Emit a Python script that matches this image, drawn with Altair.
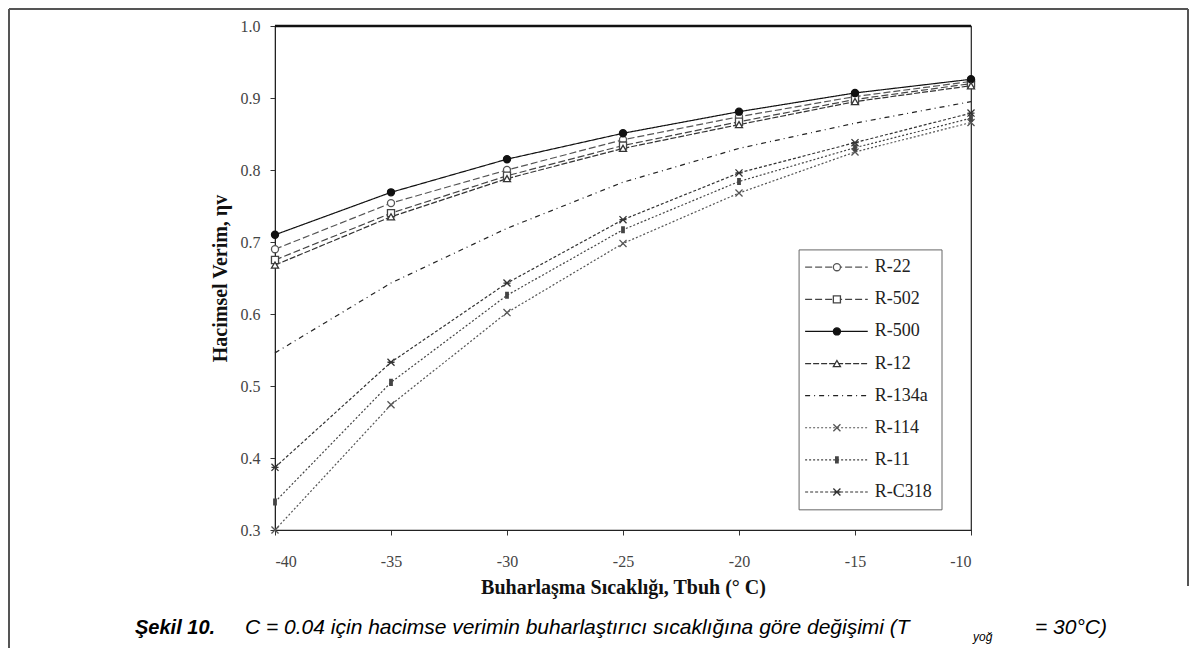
import altair as alt
import pandas as pd

# ---------------- data ----------------
temps = [-40, -35, -30, -25, -20, -15, -10]
series_names = ["R-22", "R-502", "R-500", "R-12", "R-134a", "R-114", "R-11", "R-C318"]
r22 = [0.690, 0.754, 0.800, 0.842, 0.874, 0.902, 0.923]
r502 = [0.675, 0.740, 0.792, 0.834, 0.867, 0.898, 0.920]
r500 = [0.710, 0.769, 0.815, 0.851, 0.881, 0.907, 0.926]
r12 = [0.668, 0.735, 0.788, 0.830, 0.863, 0.895, 0.917]
r134a = [0.546, 0.643, 0.719, 0.783, 0.830, 0.865, 0.895]
r114 = [0.300, 0.474, 0.602, 0.698, 0.768, 0.825, 0.866]
r11 = [0.339, 0.505, 0.626, 0.717, 0.784, 0.831, 0.872]
rc318 = [0.387, 0.533, 0.643, 0.731, 0.796, 0.838, 0.879]
y_ticks = [0.3, 0.4, 0.5, 0.6, 0.7, 0.8, 0.9, 1.0]

values_by_series = [r22, r502, r500, r12, r134a, r114, r11, rc318]

# ---------------- styles ----------------
colors = ["#555555", "#444444", "#111111", "#333333", "#222222", "#555555", "#444444", "#333333"]
dashes = [[7, 3], [7, 3], [1, 0], [6, 2], [5, 4, 1, 4], [2, 2], [2, 2], [3, 2]]
widths = [1.2, 1.2, 1.5, 1.2, 1.2, 1.2, 1.2, 1.2]
x_path = "M-1,-1L1,1M-1,1L1,-1"
bar_path = "M0,-1L0,1M-0.35,-1L-0.35,1M0.35,-1L0.35,1"
star_path = "M-1,-1L1,1M-1,1L1,-1M-1,0L1,0"
shapes = ["circle", "square", "circle", "triangle-up", "circle", x_path, bar_path, star_path]
fills = ["white", "white", "#111111", "white", "white", "white", "white", "white"]

rows = []
for name, vals in zip(series_names, values_by_series):
    for t, v in zip(temps, vals):
        rows.append({"series": name, "T": t, "v": v})
df = pd.DataFrame(rows)

color_scale = alt.Scale(domain=series_names, range=colors)
dash_scale = alt.Scale(domain=series_names, range=dashes)
width_scale = alt.Scale(domain=series_names, range=widths)
shape_scale = alt.Scale(domain=series_names, range=shapes)
fill_scale = alt.Scale(domain=series_names, range=fills)

x_scale = alt.Scale(domain=[-40, -10], nice=False)
y_scale = alt.Scale(domain=[0.3, 1.0], nice=False, zero=False)

serif = "Liberation Serif"

x_axis = alt.Axis(values=temps, labelExpr="'' + datum.value", title="Buharlaşma Sıcaklığı, Tbuh (° C)",
                  grid=False, tickSize=5, labelPadding=18, titlePadding=8,
                  labelFont=serif, labelFontSize=16, labelColor="#444444",
                  titleFont=serif, titleFontSize=20, titleFontWeight="bold",
                  titleColor="#111111", domainColor="#222222", tickColor="#333333")
y_axis = alt.Axis(values=y_ticks, format=".1f", title="Hacimsel Verim, ηv",
                  grid=False, tickSize=5, labelPadding=10, titlePadding=10,
                  labelFont=serif, labelFontSize=16, labelColor="#444444",
                  titleFont=serif, titleFontSize=20, titleFontWeight="bold",
                  titleColor="#111111", domainColor="#222222", tickColor="#333333")


def X(field):
    return alt.X(field, type="quantitative", scale=x_scale, axis=x_axis)


def Y(field):
    return alt.Y(field, type="quantitative", scale=y_scale, axis=y_axis)


lines = alt.Chart(df).mark_line().encode(
    x=X("T"), y=Y("v"),
    detail="series:N",
    color=alt.Color("series:N", scale=color_scale, legend=None),
    strokeDash=alt.StrokeDash("series:N", scale=dash_scale, legend=None),
    strokeWidth=alt.StrokeWidth("series:N", scale=width_scale, legend=None),
)

points = alt.Chart(df).transform_filter(alt.datum.series != "R-134a").mark_point(
    filled=False, size=50, strokeWidth=1.3, opacity=1
).encode(
    x=X("T"), y=Y("v"),
    shape=alt.Shape("series:N", scale=shape_scale, legend=None),
    fill=alt.Fill("series:N", scale=fill_scale, legend=None),
    color=alt.Color("series:N", scale=color_scale, legend=None),
)

top_rule = alt.Chart(alt.Data(values=[{}])).mark_rule(color="#111111", strokeWidth=2.5).encode(
    y=alt.datum(1.0, scale=y_scale, axis=y_axis)
)

# ---------------- legend (inside the plot, lower right) ----------------
leg_top = 0.665
leg_step = 0.0446
leg_rows = []
for i, name in enumerate(series_names):
    leg_rows.append({"series": name, "lx0": -17.15, "lx1": -14.45, "lm": -15.78,
                     "lt": -14.15, "ly": leg_top - i * leg_step})
leg_df = pd.DataFrame(leg_rows)

leg_box = alt.Chart(alt.Data(values=[{"a": -17.41, "b": -11.25, "c": 0.689, "d": 0.328}])).mark_rect(
    fill="white", stroke="#666666", strokeWidth=1
).encode(x=X("a"), x2="b:Q", y=Y("c"), y2="d:Q")

leg_lines = alt.Chart(leg_df).mark_rule().encode(
    x=X("lx0"), x2="lx1:Q", y=Y("ly"),
    color=alt.Color("series:N", scale=color_scale, legend=None),
    strokeDash=alt.StrokeDash("series:N", scale=dash_scale, legend=None),
    strokeWidth=alt.StrokeWidth("series:N", scale=width_scale, legend=None),
)
leg_pts = alt.Chart(leg_df).transform_filter(alt.datum.series != "R-134a").mark_point(
    filled=False, size=50, strokeWidth=1.3, opacity=1
).encode(
    x=X("lm"), y=Y("ly"),
    shape=alt.Shape("series:N", scale=shape_scale, legend=None),
    fill=alt.Fill("series:N", scale=fill_scale, legend=None),
    color=alt.Color("series:N", scale=color_scale, legend=None),
)
leg_txt = alt.Chart(leg_df).mark_text(align="left", baseline="middle", font=serif,
                                      fontSize=18, color="#222222").encode(
    x=X("lt"), y=Y("ly"), text="series:N",
)

# ---------------- caption & page frame ----------------
one = alt.Data(values=[{}])
cap_font = "Liberation Sans"
cap1 = alt.Chart(one).mark_text(text="Şekil 10.", align="left", baseline="middle", font=cap_font,
                                fontSize=20, fontStyle="italic", fontWeight="bold", color="black"
                                ).encode(x=alt.value(-140), y=alt.value(602))
cap2 = alt.Chart(one).mark_text(
    text="C = 0.04 için hacimse verimin buharlaştırıcı sıcaklığına göre değişimi (T",
    align="left", baseline="middle", font=cap_font, fontSize=21, fontStyle="italic", color="black"
).encode(x=alt.value(-30), y=alt.value(602))
cap3 = alt.Chart(one).mark_text(text="yoğ", align="left", baseline="middle", font=cap_font,
                                fontSize=12, fontStyle="italic", color="black"
                                ).encode(x=alt.value(698), y=alt.value(611))
cap4 = alt.Chart(one).mark_text(text="= 30°C)", align="right", baseline="middle", font=cap_font,
                                fontSize=21, fontStyle="italic", color="black"
                                ).encode(x=alt.value(832), y=alt.value(602))

frame_left = alt.Chart(one).mark_rule(color="#555555", strokeWidth=2).encode(
    x=alt.value(-266), y=alt.value(-17), y2=alt.value(630))
frame_top = alt.Chart(one).mark_rule(color="#555555", strokeWidth=2).encode(
    x=alt.value(-266), x2=alt.value(913), y=alt.value(-17))
frame_right = alt.Chart(one).mark_rule(color="#555555", strokeWidth=2).encode(
    x=alt.value(913), y=alt.value(-17), y2=alt.value(560))

chart = alt.layer(
    leg_box, lines, points, top_rule, leg_lines, leg_pts, leg_txt,
    cap1, cap2, cap3, cap4, frame_left, frame_top, frame_right
).properties(
    width=696, height=504,
    padding={"left": 267, "top": 18, "right": 218, "bottom": 118},
    autosize=alt.AutoSizeParams(type="none"),
).configure(
    background="white",
    view=alt.ViewConfig(stroke="#222222", strokeWidth=1.2),
)

chart.save("out.html", embed_options={"renderer": "svg", "actions": False})
